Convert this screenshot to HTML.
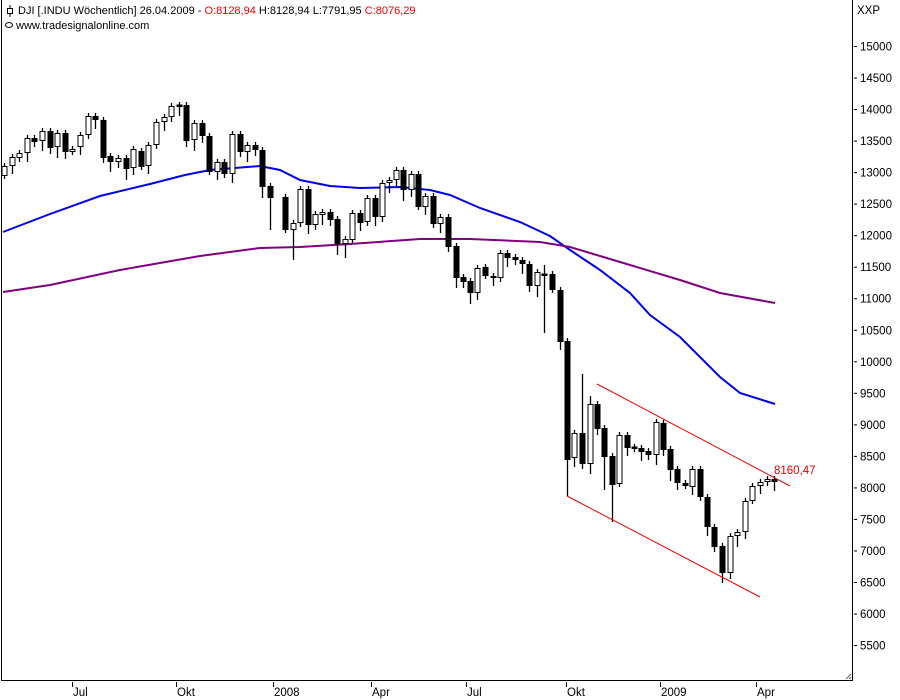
<!DOCTYPE html>
<html><head><meta charset="utf-8"><style>
html,body{margin:0;padding:0;background:#fff;width:900px;height:700px;overflow:hidden}
svg{display:block;font-family:"Liberation Sans",sans-serif}
</style></head><body>
<svg id="s" width="900" height="700" xmlns="http://www.w3.org/2000/svg">
<rect x="0" y="0" width="900" height="700" fill="#fff"/>
<line x1="1.5" y1="0" x2="1.5" y2="681" stroke="#000"/>
<line x1="852.5" y1="0" x2="852.5" y2="681" stroke="#000"/>
<line x1="1" y1="680.5" x2="853" y2="680.5" stroke="#000"/>
<text x="18" y="14" font-size="11"><tspan fill="#000">DJI [.INDU  Wöchentlich] 26.04.2009 - </tspan><tspan fill="#e00">O:8128,94 </tspan><tspan fill="#000">H:8128,94 L:7791,95 </tspan><tspan fill="#e00">C:8076,29</tspan></text>
<line x1="10" y1="5" x2="10" y2="17" stroke="#000"/><rect x="7.5" y="8.5" width="5" height="5" fill="#fff" stroke="#000"/>
<ellipse cx="9" cy="25" rx="3.5" ry="2.5" fill="none" stroke="#000"/>
<text x="16" y="29" font-size="11">www.tradesignalonline.com</text>
<text x="857" y="14" font-size="11.5">XXP</text>
<g id="yax" font-size="11.5"></g>
<g id="xax" font-size="11.5"></g>
<polyline fill="none" stroke="#0000ee" stroke-width="2" points="3,232 50,214 100,196 150,184 185,175 210,170 260,166 280,170 300,180 330,186 360,188 400,187 430,190 450,195 480,208 520,222 550,236 570,250 600,270 630,293 650,315 680,337 700,357 720,377 740,393 775,404"/>
<polyline fill="none" stroke="#800080" stroke-width="2" points="3,292 50,285 120,270 200,256 260,248 300,247 350,244 420,239 470,239 540,242 570,247 620,262 680,280 720,293 775,303"/>
<g id="c"></g>
<line x1="597" y1="384" x2="790" y2="486" stroke="#e00" stroke-width="1"/>
<line x1="567" y1="496" x2="760" y2="597" stroke="#e00" stroke-width="1"/>
<text x="774" y="474" font-size="11.5" fill="#e00">8160,47</text>
<path d="M846 679 L851 674 M849 679 L851 677" stroke="#666"/>
</svg>
<script>
var ns="http://www.w3.org/2000/svg";
function el(p,t,a,txt){var e=document.createElementNS(ns,t);for(var k in a)e.setAttribute(k,a[k]);if(txt)e.textContent=txt;p.appendChild(e);return e;}
var ya=document.getElementById('yax');
for(var p=15000;p>=5500;p-=500){var y=46+(15000-p)/500*31.53;el(ya,'line',{x1:854,x2:857,y1:y+.5,y2:y+.5,stroke:'#000'});el(ya,'text',{x:860,y:y+4.5},String(p));}
var xa=document.getElementById('xax');
[[72,'Jul'],[176,'Okt'],[273,'2008'],[371,'Apr'],[466,'Jul'],[566,'Okt'],[660,'2009'],[756,'Apr']].forEach(function(t){el(xa,'line',{x1:t[0]+.5,x2:t[0]+.5,y1:682,y2:687,stroke:'#000'});el(xa,'text',{x:t[0]+1,y:696},t[1]);});
var first=[[176,166],[166,157],[158,153],[153,138],[138,142],[141,131],[131,148],[147,133],[133,152],[152,149],[147,135],[135,116],[116,120],[120,158],[156,162],[162,158],[158,169],[168,149],[151,167],[166,145],[145,122],[122,117],[117,106],[105,106],[105,141],[140,123],[123,136],[136,172],[172,162],[162,174],[174,134],[134,152],[152,145],[145,150],[150,187],[186,198]];
var d=first.map(function(c,i){return [Math.round(4+7.6*i),c[0],c[1]];});
d=d.concat([[285,197,230],[293,230,223],[300,223,189],[308,189,225],[315,225,214],[322,215,212],[330,212,220],[337,219,244],[345,244,239],[352,240,213],[360,213,223],[367,222,198],[375,198,217],[382,217,183],[389,183,180],[396,180,170],[403,170,190],[411,190,174],[418,174,207],[425,207,196],[433,196,224],[440,224,217],[448,217,247],[456,246,278],[463,277,282],[470,281,293],[477,293,268],[485,267,276],[493,276,278],[500,278,253],[507,253,258],[515,257,260],[522,260,264],[529,264,286],[537,286,272],[544,274,275],[552,274,290],[560,290,342],[567,341,460],[574,458,433],[582,433,464],[590,464,404],[597,404,429],[604,428,457],[612,456,485],[619,484,435],[627,435,448],[634,447,448],[641,448,452],[648,451,455],[656,455,422],[663,423,450],[670,449,470],[677,469,483],[685,483,486],[692,487,469],[700,469,497],[707,497,527],[714,527,547],[722,546,573],[730,573,536],[737,536,532],[745,532,501],[752,501,486],[760,486,482],[767,482,479],[774,479,482]]);
var wx={124:[null,203],612:[null,522],567:[null,496],544:[265,333],582:[374,null],590:[396,null],604:[null,490],270:[null,230],345:[null,258],293:[null,260]};
var g=document.getElementById('c');
d.forEach(function(c,i){var x=c[0],o=c[1],cl=c[2];var t=Math.min(o,cl),b=Math.max(o,cl);
var hi=t-3-((i*7)%7),lo=b+3+((i*5)%9);var w=wx[x];if(w){if(w[0])hi=w[0];if(w[1])lo=w[1];}
el(g,'line',{x1:x+.5,x2:x+.5,y1:hi,y2:lo,stroke:'#000','stroke-width':1.3});
var filled=cl>o;if(b-t<1.5){el(g,'rect',{x:x-2.5,y:t-0.5,width:6,height:2.5,fill:'#000'});return;}
el(g,'rect',{x:filled?x-2.5:x-2,y:filled?t:t+.5,width:filled?6:5,height:filled?b-t:b-t-1,fill:filled?'#000':'#fff',stroke:filled?'none':'#000','stroke-width':1});});
</script>
</body></html>
